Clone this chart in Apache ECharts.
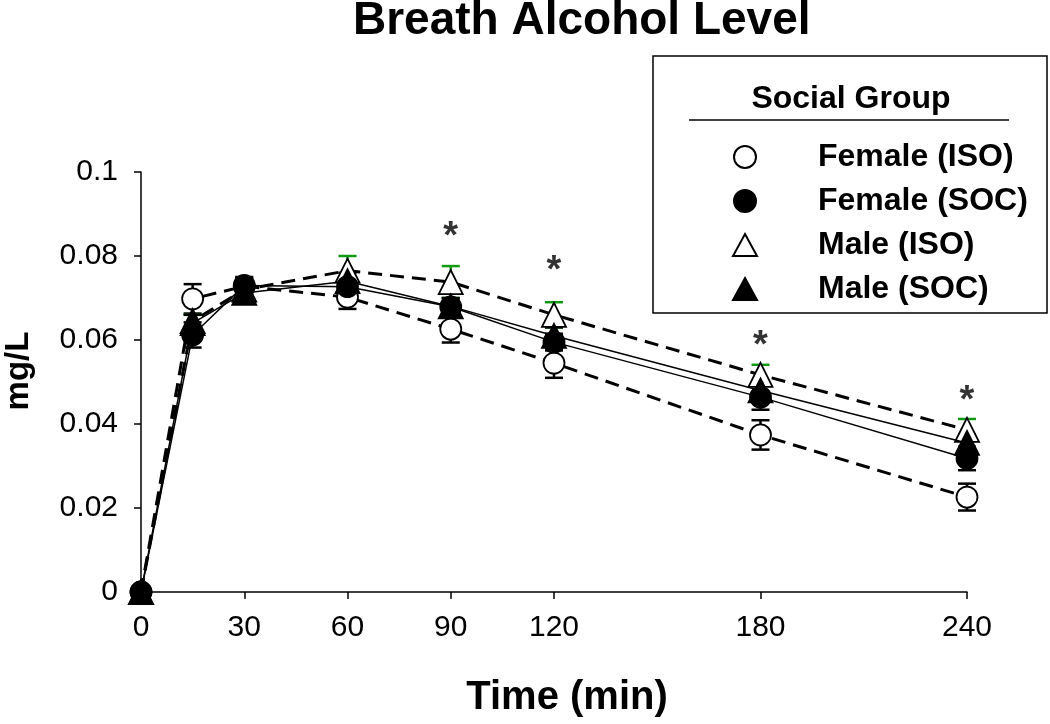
<!DOCTYPE html>
<html>
<head>
<meta charset="utf-8">
<script src="https://cdn.jsdelivr.net/npm/echarts@6/dist/echarts.min.js"></script>
<style>
  html, body { margin: 0; padding: 0; background: #fff; }
  #chart { width: 1050px; height: 724px; }
</style>
</head>
<body>
<div id="chart"></div>
<script>
// time points (min)
const times = [0, 15, 30, 60, 90, 120, 180, 240];
const xTicks = [0, 30, 60, 90, 120, 180, 240];

// group means (mg/L)
const femaleIso = [0, 0.0698, 0.0728, 0.0702, 0.0626, 0.0545, 0.0374, 0.0226];
const femaleSoc = [0, 0.0612, 0.0730, 0.0727, 0.0679, 0.0595, 0.0464, 0.0318];
const maleIso = [0, 0.0645, 0.0720, 0.0765, 0.0738, 0.0660, 0.0517, 0.0386];
const maleSoc = [0, 0.0640, 0.0712, 0.0740, 0.0680, 0.0610, 0.0480, 0.0355];

// standard errors
const femaleIsoErr = [0, 0.0035, 0.002, 0.0028, 0.0032, 0.0035, 0.0035, 0.0032];
const femaleSocErr = [0, 0.003, 0.002, 0.002, 0.002, 0.002, 0.003, 0.0028];
const maleIsoErr = [0, 0.0015, 0.002, 0.0035, 0.0038, 0.003, 0.0024, 0.0026];
const maleSocErr = [0, 0.002, 0.002, 0.002, 0.002, 0.002, 0.002, 0.002];

// significance markers
const sigTimes = [90, 120, 180, 240];
const sigLevels = [0.0865, 0.0785, 0.0605, 0.0475];

const FONT = 'Liberation Sans, Arial, sans-serif';
const chart = echarts.init(document.getElementById('chart'));

function errorSeries(name, vals, errs, color) {
  return {
    name: name + ' err',
    type: 'custom',
    z: 1,
    silent: true,
    clip: false,
    data: times.map((t, i) => [t, vals[i] - errs[i], vals[i] + errs[i]]),
    renderItem: function (params, api) {
      const lo = api.coord([api.value(0), api.value(1)]);
      const hi = api.coord([api.value(0), api.value(2)]);
      const half = 9;
      const style = { stroke: color, lineWidth: 2.5 };
      return {
        type: 'group',
        children: [
          { type: 'line', shape: { x1: lo[0], y1: lo[1], x2: hi[0], y2: hi[1] }, style: style },
          { type: 'line', shape: { x1: lo[0] - half, y1: lo[1], x2: lo[0] + half, y2: lo[1] }, style: style },
          { type: 'line', shape: { x1: hi[0] - half, y1: hi[1], x2: hi[0] + half, y2: hi[1] }, style: style }
        ]
      };
    }
  };
}

function lineSeries(name, vals, symbol, fill, dashed, z) {
  return {
    name: name,
    type: 'line',
    z: z,
    clip: false,
    data: times.map((t, i) => [t, vals[i]]),
    symbol: symbol,
    symbolSize: symbol === 'circle' ? 21 : 24,
    showAllSymbol: true,
    lineStyle: dashed
      ? { color: '#000', width: 3, type: [14, 8] }
      : { color: '#000', width: 1.5 },
    itemStyle: { color: fill, borderColor: '#000', borderWidth: 1.8 },
    emphasis: { disabled: true }
  };
}

const option = {
  animation: false,
  backgroundColor: '#fff',
  title: {
    text: 'Breath Alcohol Level',
    left: 348,
    top: -7,
    textStyle: { fontFamily: FONT, fontSize: 46, fontWeight: 'bold', color: '#000' }
  },
  grid: { left: 141, right: 83, top: 172, bottom: 132, outerBoundsMode: 'none' },
  legend: {
    orient: 'vertical',
    left: 727,
    top: 136,
    itemWidth: 24,
    itemHeight: 22,
    itemGap: 12,
    selectedMode: false,
    data: [
      { name: 'Female (ISO)', icon: 'circle' },
      { name: 'Female (SOC)', icon: 'circle' },
      { name: 'Male (ISO)', icon: 'triangle' },
      { name: 'Male (SOC)', icon: 'triangle' }
    ],
    textStyle: { fontFamily: FONT, fontSize: 32, fontWeight: 'bold', color: '#000', padding: [0, 0, 0, 56] }
  },
  graphic: [
    { type: 'rect', shape: { x: 653, y: 56, width: 394, height: 257 }, style: { fill: 'none', stroke: '#000', lineWidth: 1.5 } },
    { type: 'text', x: 851, y: 99, style: { text: 'Social Group', fontFamily: FONT, fontSize: 32, fontWeight: 'bold', fill: '#000', align: 'center', verticalAlign: 'middle' } },
    { type: 'line', shape: { x1: 689, y1: 120, x2: 1009, y2: 120 }, style: { stroke: '#000', lineWidth: 1.5 } }
  ],
  xAxis: {
    type: 'value',
    min: 0,
    max: 240,
    name: 'Time (min)',
    nameLocation: 'middle',
    nameGap: 86,
    nameTextStyle: { fontFamily: FONT, fontSize: 40, fontWeight: 'bold', color: '#000', padding: [0, 0, 0, 26] },
    axisLine: { lineStyle: { color: '#000', width: 1.5 } },
    axisTick: { show: true, inside: false, length: 7, lineStyle: { color: '#000', width: 1.5 }, customValues: xTicks },
    axisLabel: { fontFamily: FONT, fontSize: 30, color: '#000', margin: 21, customValues: xTicks },
    splitLine: { show: false }
  },
  yAxis: {
    type: 'value',
    min: 0,
    max: 0.1,
    interval: 0.02,
    name: 'mg/L',
    nameLocation: 'middle',
    nameGap: 106,
    nameRotate: 90,
    nameTextStyle: { fontFamily: FONT, fontSize: 33, fontWeight: 'bold', color: '#000', padding: [0, 0, 0, 22] },
    axisLine: { show: true, lineStyle: { color: '#000', width: 1.5 } },
    axisTick: { show: true, length: 7, lineStyle: { color: '#000', width: 1.5 } },
    axisLabel: { fontFamily: FONT, fontSize: 30, color: '#000', margin: 23 },
    splitLine: { show: false }
  },
  series: [
    errorSeries('Female (ISO)', femaleIso, femaleIsoErr, '#000'),
    errorSeries('Female (SOC)', femaleSoc, femaleSocErr, '#000'),
    errorSeries('Male (ISO)', maleIso, maleIsoErr, '#139a13'),
    errorSeries('Male (SOC)', maleSoc, maleSocErr, '#000'),
    lineSeries('Female (ISO)', femaleIso, 'circle', '#fff', true, 3),
    lineSeries('Male (ISO)', maleIso, 'triangle', '#fff', true, 4),
    lineSeries('Female (SOC)', femaleSoc, 'circle', '#000', false, 5),
    lineSeries('Male (SOC)', maleSoc, 'triangle', '#000', false, 6),
    {
      name: 'sig',
      type: 'scatter',
      z: 7,
      silent: true,
      symbolSize: 1,
      itemStyle: { color: 'rgba(0,0,0,0)' },
      data: sigTimes.map((t, i) => [t, sigLevels[i]]),
      label: {
        show: true,
        position: 'inside',
        formatter: '*',
        fontFamily: FONT,
        fontSize: 38,
        fontWeight: 'bold',
        color: '#000',
        offset: [0, 9]
      }
    }
  ]
};

chart.setOption(option);
</script>
</body>
</html>
